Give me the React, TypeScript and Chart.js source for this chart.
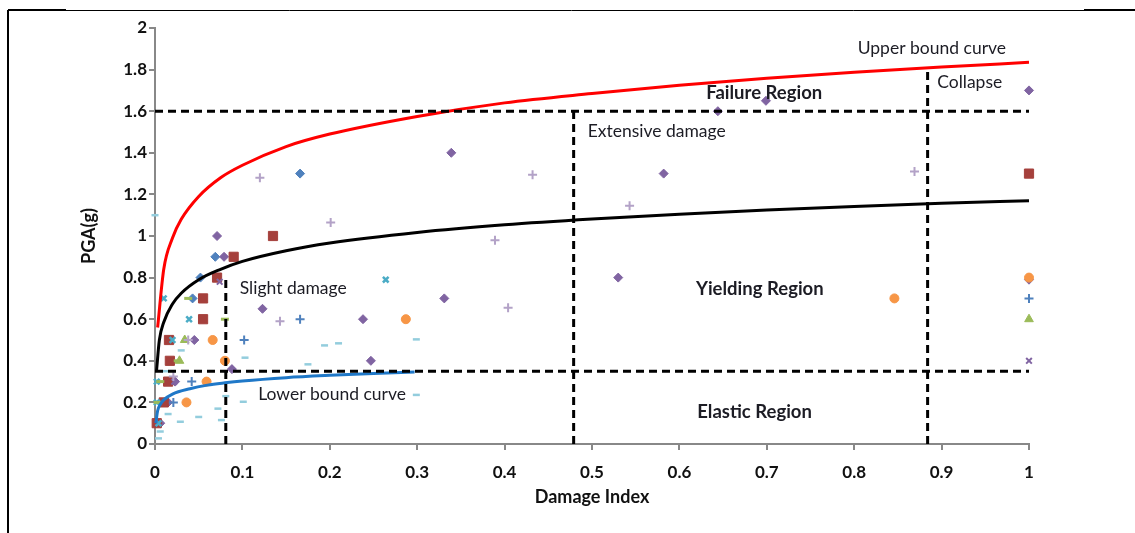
import React, { useEffect, useRef } from "react";
import { Chart, registerables } from "chart.js";

Chart.register(...registerables);

// ---- Boundary curves ----
const upperX = [0.003, 0.01, 0.02, 0.03, 0.05, 0.075, 0.1, 0.15, 0.2, 0.3, 0.4, 0.5, 0.6, 0.7, 0.8, 0.9, 1.0];
const upperY = [0.56, 0.84, 0.99, 1.08, 1.19, 1.28, 1.34, 1.43, 1.49, 1.575, 1.64, 1.685, 1.725, 1.758, 1.787, 1.812, 1.835];

const middleX = [0.0017, 0.005, 0.01, 0.02, 0.03, 0.05, 0.075, 0.1, 0.15, 0.2, 0.3, 0.4, 0.5, 0.6, 0.7, 0.8, 0.9, 1.0];
const middleY = [0.35, 0.5, 0.585, 0.673, 0.725, 0.79, 0.84, 0.878, 0.929, 0.966, 1.017, 1.054, 1.082, 1.105, 1.125, 1.142, 1.157, 1.17];

const lowerX = [0.001, 0.003, 0.006, 0.01, 0.02, 0.04, 0.06, 0.08, 0.1, 0.15, 0.2, 0.25, 0.297];
const lowerY = [0.1, 0.16, 0.19, 0.212, 0.24, 0.266, 0.283, 0.294, 0.303, 0.319, 0.33, 0.339, 0.346];

// ---- Region boundaries (dashed) ----
const failureLineX = [0, 1];
const failureLineY = [1.6, 1.6];
const elasticLineX = [0, 1];
const elasticLineY = [0.35, 0.35];
const slightLineX = [0.081, 0.081];
const slightLineY = [0, 0.79];
const extensiveLineX = [0.479, 0.479];
const extensiveLineY = [0, 1.6];
const collapseLineX = [0.884, 0.884];
const collapseLineY = [0, 1.81];

// ---- Scatter series ----
const blueDiamondX = [0.069, 0.052, 0.043, 0.166];
const blueDiamondY = [0.9, 0.8, 0.7, 1.3];

const redSquareX = [0.135, 0.09, 0.071, 0.055, 0.055, 0.016, 0.017, 0.015, 0.01, 0.002, 1.0];
const redSquareY = [1.0, 0.9, 0.8, 0.7, 0.6, 0.5, 0.4, 0.3, 0.2, 0.1, 1.3];

const greenTriangleX = [0.034, 0.028, 1.0];
const greenTriangleY = [0.5, 0.4, 0.6];

const purpleCrossX = [0.074, 0.022, 0.004, 1.0];
const purpleCrossY = [0.78, 0.3, 0.1, 0.4];

const tealStarX = [0.01, 0.039, 0.02, 0.002, 0.002, 0.004, 0.264];
const tealStarY = [0.7, 0.6, 0.5, 0.3, 0.2, 0.1, 0.79];

const orangeCircleX = [0.066, 0.08, 0.059, 0.036, 0.287, 0.846, 1.0];
const orangeCircleY = [0.5, 0.4, 0.3, 0.2, 0.6, 0.7, 0.8];

const bluePlusX = [0.102, 0.166, 0.042, 0.021, 1.0];
const bluePlusY = [0.5, 0.6, 0.3, 0.2, 0.7];

const purpleDiamondX = [0.071, 0.079, 0.045, 0.088, 0.247, 0.123, 0.238, 0.331, 0.339, 0.53, 0.582, 0.644, 0.699, 1.0, 1.0, 0.023, 0.015, 0.006];
const purpleDiamondY = [1.0, 0.9, 0.5, 0.36, 0.4, 0.65, 0.6, 0.7, 1.4, 0.8, 1.3, 1.6, 1.65, 1.7, 0.79, 0.3, 0.2, 0.1];

const lilacPlusX = [0.12, 0.143, 0.201, 0.389, 0.404, 0.432, 0.543, 0.869, 0.021, 0.038];
const lilacPlusY = [1.28, 0.59, 1.065, 0.98, 0.655, 1.295, 1.145, 1.31, 0.325, 0.5];

const skyDashX = [0.0, 0.103, 0.175, 0.194, 0.21, 0.299, 0.299, 0.015, 0.029, 0.072, 0.076, 0.101, 0.081, 0.006, 0.004, 0.012, 0.03, 0.05];
const skyDashY = [1.1, 0.415, 0.383, 0.474, 0.484, 0.503, 0.236, 0.144, 0.107, 0.17, 0.115, 0.203, 0.23, 0.06, 0.027, 0.35, 0.45, 0.13];

const greenDashX = [0.038, 0.08, 0.026, 0.006, 0.003];
const greenDashY = [0.7, 0.6, 0.4, 0.3, 0.2];

// ---- Axis ticks ----
const xTickValues = [0, 0.1, 0.2, 0.3, 0.4, 0.5, 0.6, 0.7, 0.8, 0.9, 1];
const yTickValues = [0, 0.2, 0.4, 0.6, 0.8, 1, 1.2, 1.4, 1.6, 1.8, 2];

// ---- Region labels ----
const labelTexts = ["Upper bound curve", "Collapse", "Failure Region", "Extensive damage", "Slight damage", "Yielding Region", "Lower bound curve", "Elastic Region"];
const labelX = [0.804, 0.895, 0.697, 0.495, 0.097, 0.692, 0.118, 0.686];
const labelY = [1.904, 1.74, 1.688, 1.505, 0.75, 0.745, 0.24, 0.154];
const labelBold = [false, false, true, false, false, true, false, true];
const labelAlign = ["left", "left", "center", "left", "left", "center", "left", "center"];

const pts = (xs: number[], ys: number[]) => xs.map((x, i) => ({ x, y: ys[i] }));

const FONT = "Lato, 'Open Sans', sans-serif";

const curve = (xs: number[], ys: number[], color: string) => ({
  type: "line" as const,
  data: pts(xs, ys),
  borderColor: color,
  borderWidth: 3,
  pointRadius: 0,
  fill: false,
  cubicInterpolationMode: "monotone" as const,
  clip: false as any,
});

const dashed = (xs: number[], ys: number[]) => ({
  type: "line" as const,
  data: pts(xs, ys),
  borderColor: "#000",
  borderWidth: 3,
  borderDash: [8, 5],
  pointRadius: 0,
  fill: false,
  clip: false as any,
});

const marks = (xs: number[], ys: number[], style: string, color: string, radius: number, bw = 1, filled = true) => ({
  type: "scatter" as const,
  data: pts(xs, ys),
  pointStyle: style as any,
  pointRadius: radius,
  pointBackgroundColor: filled ? color : "transparent",
  pointBorderColor: color,
  pointBorderWidth: bw,
  clip: false as any,
});

const overlayPlugin = {
  id: "overlay",
  afterDatasetsDraw(chart: any) {
    const { ctx, scales } = chart;
    const xs = scales.x;
    const ys = scales.y;
    ctx.save();
    labelTexts.forEach((t, i) => {
      ctx.font = labelBold[i] ? `bold 18.5px ${FONT}` : `17.5px ${FONT}`;
      ctx.fillStyle = "#1c1c24";
      ctx.textAlign = labelAlign[i];
      ctx.textBaseline = "middle";
      ctx.fillText(t, xs.getPixelForValue(labelX[i]), ys.getPixelForValue(labelY[i]));
    });
    ctx.restore();
  },
  beforeDraw(chart: any) {
    const { ctx } = chart;
    ctx.save();
    ctx.fillStyle = "#fff";
    ctx.fillRect(0, 0, chart.width, chart.height);
    ctx.strokeStyle = "#000";
    ctx.lineWidth = 2;
    ctx.beginPath();
    ctx.moveTo(8, 10);
    ctx.lineTo(8, chart.height);
    ctx.stroke();
    ctx.lineWidth = 1;
    ctx.beginPath();
    ctx.moveTo(8, 10.5);
    ctx.lineTo(chart.width, 10.5);
    ctx.stroke();
    ctx.lineWidth = 2;
    ctx.beginPath();
    ctx.moveTo(8, 10);
    ctx.lineTo(66, 10);
    ctx.moveTo(1084, 10);
    ctx.lineTo(chart.width, 10);
    ctx.stroke();
    ctx.restore();
  },
};

export default function App() {
  const ref = useRef<HTMLCanvasElement>(null);

  useEffect(() => {
    if (!ref.current) return;
    Chart.defaults.font.family = FONT;
    Chart.defaults.color = "#111";
    const chart = new Chart(ref.current, {
      type: "scatter",
      data: {
        datasets: [
          dashed(failureLineX, failureLineY),
          dashed(elasticLineX, elasticLineY),
          dashed(slightLineX, slightLineY),
          dashed(extensiveLineX, extensiveLineY),
          dashed(collapseLineX, collapseLineY),
          curve(upperX, upperY, "#ff0000"),
          curve(middleX, middleY, "#000000"),
          curve(lowerX, lowerY, "#1f78c8"),
          marks(greenDashX, greenDashY, "line", "#9bbb59", 4, 3),
          marks(skyDashX, skyDashY, "line", "#93cddd", 3.5, 2.5),
          marks(lilacPlusX, lilacPlusY, "cross", "#b3a2c7", 4.5, 2),
          marks(bluePlusX, bluePlusY, "cross", "#4f81bd", 4.5, 2),
          marks(orangeCircleX, orangeCircleY, "circle", "#f79646", 4.5),
          marks(tealStarX, tealStarY, "crossRot", "#4bacc6", 4, 2.5),
          marks(purpleCrossX, purpleCrossY, "crossRot", "#8064a2", 4, 2),
          marks(greenTriangleX, greenTriangleY, "triangle", "#9bbb59", 5),
          marks(redSquareX, redSquareY, "rect", "#a5403c", 6.5),
          marks(purpleDiamondX, purpleDiamondY, "rectRot", "#8064a2", 4.5),
          marks(blueDiamondX, blueDiamondY, "rectRot", "#4f81bd", 4.5),
        ] as any,
      },
      options: {
        responsive: false,
        animation: false,
        layout: { padding: { left: 0, right: 106, top: 28, bottom: 0 } },
        plugins: { legend: { display: false }, tooltip: { enabled: false } },
        scales: {
          x: {
            type: "linear",
            min: 0,
            max: 1,
            afterFit: (s: any) => {
              s.height = 89;
            },
            afterBuildTicks: (s: any) => {
              s.ticks = xTickValues.map((v) => ({ value: v }));
            },
            ticks: {
              font: { size: 17, weight: "bold" },
              color: "#111",
              padding: 12,
              maxRotation: 0,
              autoSkip: false,
              callback: (v: any) => String(Number(Number(v).toFixed(1))),
            },
            grid: { drawOnChartArea: false, drawTicks: true, tickLength: 6, color: "#888", lineWidth: 2 },
            border: { color: "#888", width: 2 },
            title: {
              display: true,
              text: "Damage Index",
              font: { size: 18, weight: "bold" },
              color: "#111",
              padding: { top: 0, bottom: 25 },
            },
          },
          y: {
            type: "linear",
            min: 0,
            max: 2,
            afterFit: (s: any) => {
              s.width = 155;
            },
            afterBuildTicks: (s: any) => {
              s.ticks = yTickValues.map((v) => ({ value: v }));
            },
            ticks: {
              font: { size: 17, weight: "bold" },
              color: "#111",
              padding: 2,
              autoSkip: false,
              callback: (v: any) => String(Number(Number(v).toFixed(1))),
            },
            grid: { drawOnChartArea: false, drawTicks: true, tickLength: 6, color: "#888", lineWidth: 2 },
            border: { color: "#888", width: 2 },
            title: {
              display: true,
              text: "PGA(g)",
              font: { size: 18, weight: "bold" },
              color: "#111",
              padding: { top: 78, bottom: 0 },
            },
          },
        },
      },
      plugins: [overlayPlugin],
    });
    return () => chart.destroy();
  }, []);

  return (
    <div style={{ position: "absolute", left: 0, top: 0, width: 1135, height: 533 }}>
      <canvas ref={ref} width={1135} height={533} style={{ display: "block" }} />
    </div>
  );
}
